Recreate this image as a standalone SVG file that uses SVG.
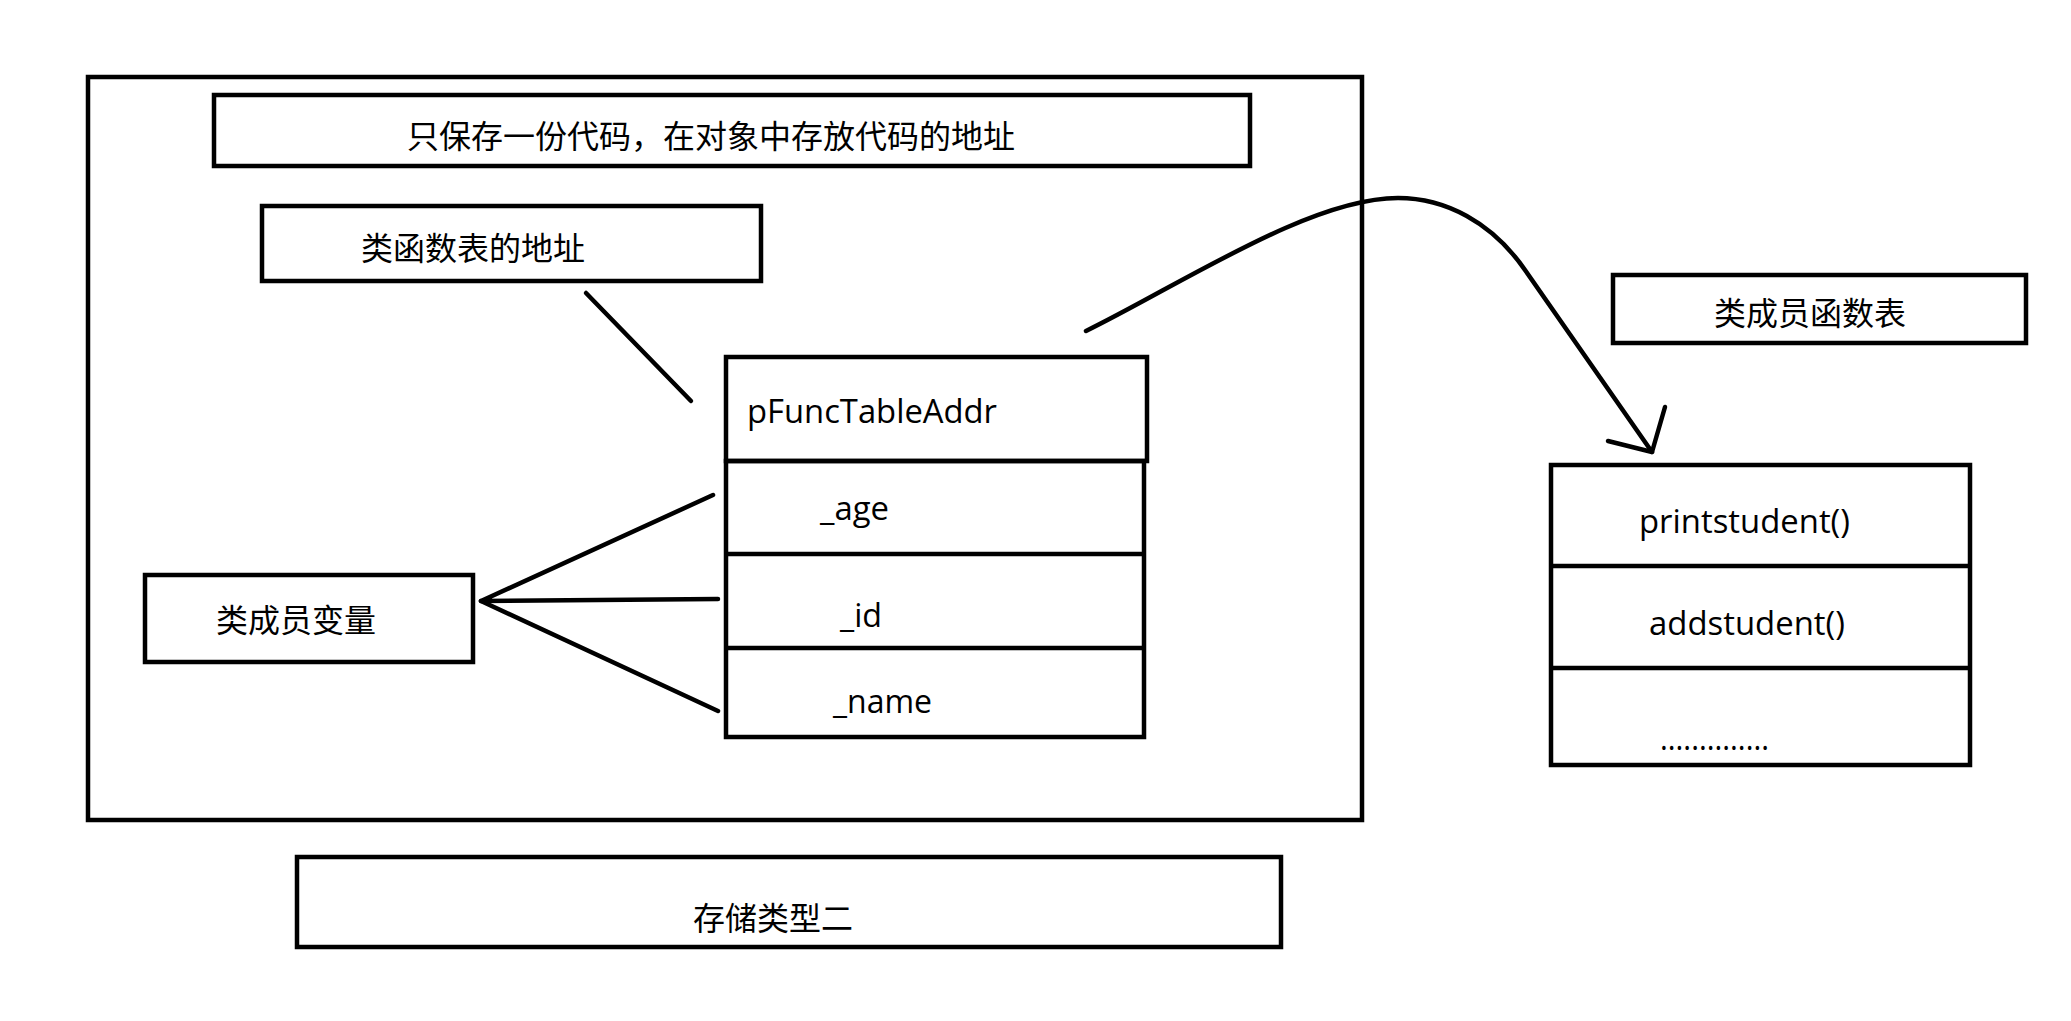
<svg xmlns="http://www.w3.org/2000/svg" width="2071" height="1021" viewBox="0 0 2071 1021">
<style>
.box{fill:none;stroke:#000;stroke-width:4.5}
.ln{fill:none;stroke:#000;stroke-width:4.5;stroke-linecap:round;stroke-linejoin:round}
.cjk{font-family:"Noto Sans CJK SC","Noto Sans",sans-serif;font-size:32px;fill:#000}
.lat{font-family:"Open Sans","Noto Sans",sans-serif;font-size:32px;fill:#000}
</style>
<rect width="2071" height="1021" fill="#fff"/>
<g id="outer-frame"><rect class="box" x="88" y="77" width="1274" height="743"/></g>
<g id="note-top"><rect class="box" x="214" y="95" width="1036" height="71"/><text class="cjk" x="407" y="148">只保存一份代码，在对象中存放代码的地址</text></g>
<g id="note-func-addr"><rect class="box" x="262" y="206" width="499" height="75"/><text class="cjk" x="361" y="260">类函数表的地址</text></g>
<g id="note-member-vars"><rect class="box" x="145" y="575" width="328" height="87"/><text class="cjk" x="216" y="632">类成员变量</text></g>
<g id="caption"><rect class="box" x="297" y="857" width="984" height="90"/><text class="cjk" x="693" y="930">存储类型二</text></g>
<g id="note-func-table"><rect class="box" x="1613" y="275" width="413" height="68"/><text class="cjk" x="1714" y="325">类成员函数表</text></g>
<g id="object-layout">
<rect class="box" x="726" y="357" width="421" height="104"/>
<rect class="box" x="726" y="461" width="418" height="276"/>
<line class="box" x1="726" y1="554" x2="1144" y2="554"/>
<line class="box" x1="726" y1="648" x2="1144" y2="648"/>
<text class="lat" x="747" y="423" textLength="250" lengthAdjust="spacingAndGlyphs">pFuncTableAddr</text>
<text class="lat" x="820" y="520" textLength="69" lengthAdjust="spacingAndGlyphs">_age</text>
<text class="lat" x="840" y="627" textLength="42" lengthAdjust="spacingAndGlyphs">_id</text>
<text class="lat" x="833" y="713" textLength="99" lengthAdjust="spacingAndGlyphs">_name</text>
</g>
<g id="func-table">
<rect class="box" x="1551" y="465" width="419" height="300"/>
<line class="box" x1="1551" y1="566" x2="1970" y2="566"/>
<line class="box" x1="1551" y1="668" x2="1970" y2="668"/>
<text class="lat" x="1639" y="533" textLength="211" lengthAdjust="spacingAndGlyphs">printstudent()</text>
<text class="lat" x="1649" y="635" textLength="196" lengthAdjust="spacingAndGlyphs">addstudent()</text>
<text class="lat" x="1660" y="750" textLength="109" lengthAdjust="spacingAndGlyphs">..............</text>
</g>
<g id="connectors">
<path class="ln" d="M586,293 L691,401"/>
<path class="ln" d="M713,495 L481,601 L718,599"/>
<path class="ln" d="M481,601 L718,711"/>
<path class="ln" d="M1086,331 C1180,285 1310,198 1398,198 C1445,198 1492,222 1525,270 L1652,452"/>
<path class="ln" d="M1665,407 L1652,452 L1608,441"/>
</g>
</svg>
